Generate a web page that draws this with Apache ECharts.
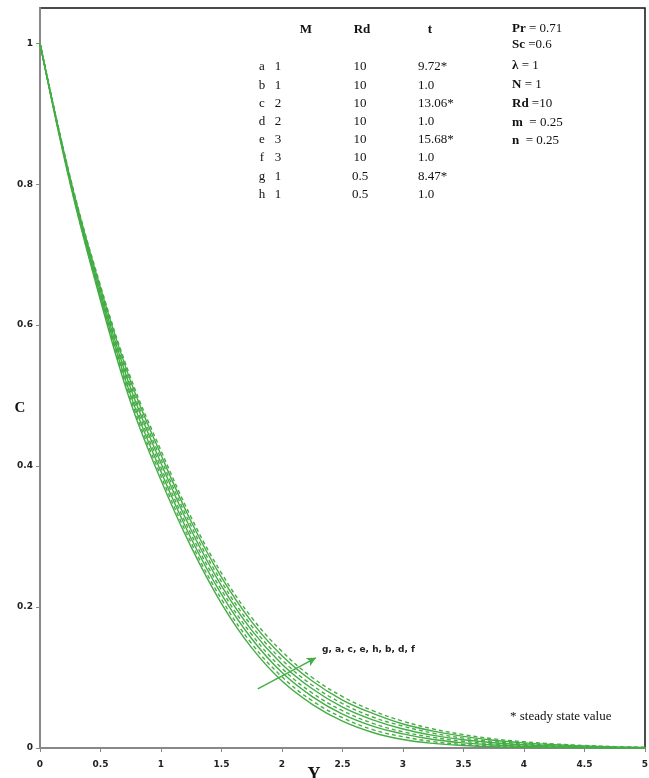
<!DOCTYPE html>
<html><head><meta charset="utf-8">
<script src="https://cdn.jsdelivr.net/npm/echarts@6/dist/echarts.min.js"></script>
<style>html,body{margin:0;padding:0;background:#fff}#c{width:649px;height:778px}</style>
</head><body><div id="c"></div>
<script>
var yPos = [0,0.25,0.5,0.75,1,1.25,1.5,1.75,2,2.25,2.5,2.75,3,3.25,3.5,3.75,4,4.25,4.5,4.75,5];
var curveG = [1,0.80,0.635,0.49,0.38,0.285,0.205,0.142,0.095,0.062,0.038,0.022,0.012,0.0065,0.0035,0.0018,0.001,0.0005,0.0002,0.0001,0];
var curveA = [1,0.802,0.638,0.495,0.386,0.291,0.211,0.148,0.101,0.067,0.043,0.026,0.016,0.009,0.005,0.0028,0.0015,0.0008,0.0004,0.0002,0.0001];
var curveC = [1,0.804,0.641,0.5,0.392,0.297,0.218,0.155,0.107,0.073,0.048,0.031,0.02,0.012,0.0072,0.0042,0.0024,0.0013,0.0007,0.0003,0.0001];
var curveE = [1,0.805,0.644,0.505,0.398,0.303,0.224,0.161,0.113,0.078,0.053,0.035,0.023,0.015,0.0095,0.0058,0.0035,0.002,0.0011,0.0005,0.0002];
var curveH = [1,0.806,0.647,0.51,0.404,0.309,0.23,0.167,0.119,0.084,0.058,0.04,0.027,0.018,0.0118,0.0075,0.0047,0.0028,0.0016,0.0008,0.0003];
var curveB = [1,0.807,0.65,0.515,0.41,0.315,0.236,0.173,0.125,0.089,0.063,0.044,0.031,0.021,0.014,0.0092,0.006,0.0037,0.0022,0.0011,0.0005];
var curveD = [1,0.808,0.653,0.52,0.416,0.321,0.242,0.179,0.131,0.095,0.068,0.049,0.034,0.024,0.0165,0.011,0.0072,0.0046,0.0028,0.0015,0.0007];
var curveF = [1,0.81,0.656,0.525,0.422,0.327,0.248,0.185,0.137,0.10,0.073,0.053,0.038,0.027,0.019,0.013,0.0088,0.0058,0.0036,0.002,0.001];
var curveNames = ['g','a','c','e','h','b','d','f'];
var curveData = [curveG,curveA,curveC,curveE,curveH,curveB,curveD,curveF];
var dashedCurve = [false,true,false,true,false,true,false,true];

var tableHead = ['M','Rd','t'];
var rowLetters = ['a','b','c','d','e','f','g','h'];
var rowM = ['1','1','2','2','3','3','1','1'];
var rowRd = ['10','10','10','10','10','10','0.5','0.5'];
var rowT = ['9.72*','1.0','13.06*','1.0','15.68*','1.0','8.47*','1.0'];
var paramLabels = ['Pr','Sc','\u03bb','N','Rd','m','n'];
var paramValues = [' = 0.71',' =0.6',' = 1',' = 1',' =10','  = 0.25','  = 0.25'];
var arrowFrom = [1.80, 0.084];
var arrowTo = [2.28, 0.128];
var orderText = 'g, a, c, e, h, b, d, f';
var xTitle = 'Y';
var yTitle = 'C';

var green = '#45ad45';
var series = curveData.map(function(d,i){
  return {
    name: curveNames[i], type:'line', smooth:0.4, symbol:'none',
    data: yPos.map(function(x,j){return [x,d[j]];}),
    lineStyle:{color:green,width:1.4,type: dashedCurve[i] ? [4,3] : 'solid'},
    z: 3
  };
});
series.push({
  type:'line', data:[], symbol:'none',
  markLine:{silent:true, symbol:['none','arrow'], symbolSize:[7,9],
    lineStyle:{color:green,width:1.5,type:'solid'}, label:{show:false},
    data:[[{coord:arrowFrom},{coord:arrowTo}]]}
});

var serif = '"Liberation Serif","Times New Roman",serif';
var graphics = [];
var hx = [306, 362, 430];
tableHead.forEach(function(h,i){
  graphics.push({type:'text', x:hx[i], y:30, style:{text:h, font:'bold 13px '+serif, fill:'#111', textAlign:'center', textVerticalAlign:'middle'}});
});
for (var i=0;i<rowLetters.length;i++){
  var yy = 67 + i*18.2;
  graphics.push({type:'text', x:262, y:yy, style:{text:rowLetters[i], font:'13px '+serif, fill:'#111', textAlign:'center', textVerticalAlign:'middle'}});
  graphics.push({type:'text', x:278, y:yy, style:{text:rowM[i], font:'13px '+serif, fill:'#111', textAlign:'center', textVerticalAlign:'middle'}});
  graphics.push({type:'text', x:360, y:yy, style:{text:rowRd[i], font:'13px '+serif, fill:'#111', textAlign:'center', textVerticalAlign:'middle'}});
  graphics.push({type:'text', x:418, y:yy, style:{text:rowT[i], font:'13px '+serif, fill:'#111', textAlign:'left', textVerticalAlign:'middle'}});
}
var py = [29, 45, 66, 85, 104, 123, 141];
paramLabels.forEach(function(p,i){
  graphics.push({type:'text', x:512, y:py[i], style:{rich:{b:{font:'bold 13px '+serif, fill:'#111'}, r:{font:'13px '+serif, fill:'#111'}}, text:'{b|'+p+'}{r|'+paramValues[i]+'}', textVerticalAlign:'middle'}});
});
graphics.push({type:'text', x:510, y:717, style:{text:'* steady state value', font:'13px '+serif, fill:'#111', textVerticalAlign:'middle'}});
graphics.push({type:'text', x:322, y:650, style:{text:orderText, font:'bold 9px "DejaVu Sans",sans-serif', fill:'#222', textVerticalAlign:'middle'}});
graphics.push({type:'text', x:314, y:775, style:{text:xTitle, font:'bold 18px '+serif, fill:'#111', textAlign:'center', textVerticalAlign:'middle'}});
graphics.push({type:'text', x:20, y:408, style:{text:yTitle, font:'bold 15px '+serif, fill:'#111', textAlign:'center', textVerticalAlign:'middle'}});

var chart = echarts.init(document.getElementById('c'));
chart.setOption({
  animation:false,
  grid:{left:40,right:4,top:8,bottom:30,show:true,borderColor:'#111',borderWidth:1.5,containLabel:false,outerBoundsMode:'none'},
  xAxis:{type:'value',min:0,max:5,interval:0.5,
    axisLine:{show:true,lineStyle:{color:'#888',width:2}},
    axisTick:{show:true,length:4,lineStyle:{color:'#888'}},
    axisLabel:{color:'#222',fontSize:9,fontWeight:'bold',fontFamily:'"DejaVu Sans",sans-serif',margin:12},
    splitLine:{show:false}},
  yAxis:{type:'value',min:0,max:1.05,interval:0.2,
    axisLine:{show:true,lineStyle:{color:'#888',width:2}},
    axisTick:{show:true,length:4,lineStyle:{color:'#888'}},
    axisLabel:{color:'#222',fontSize:9,fontWeight:'bold',fontFamily:'"DejaVu Sans",sans-serif',margin:7,showMaxLabel:false},
    splitLine:{show:false}},
  series:series,
  graphic:graphics
});
</script></body></html>
